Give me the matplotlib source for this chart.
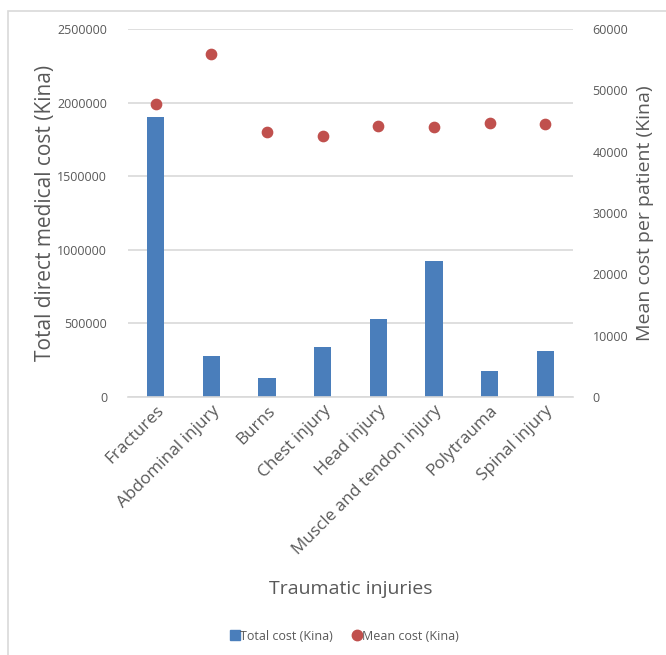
import matplotlib
matplotlib.use("Agg")
import matplotlib.pyplot as plt
from matplotlib.patches import Rectangle
from matplotlib.lines import Line2D
import numpy as np

categories = ["Fractures", "Abdominal injury", "Burns", "Chest injury", "Head injury",
              "Muscle and tendon injury", "Polytrauma", "Spinal injury"]
total_cost = [1905000, 280000, 127000, 340000, 530000, 924000, 179000, 311000]
mean_cost = [47700, 55900, 43200, 42600, 44200, 44000, 44700, 44500]
left_ticks = [0, 500000, 1000000, 1500000, 2000000, 2500000]
right_ticks = [0, 10000, 20000, 30000, 40000, 50000, 60000]

plt.rcParams['font.family'] = ['Open Sans', 'DejaVu Sans']
TXT = '#595959'
BAR = '#4A7EBB'
DOT = '#C0504D'
GRID = '#D9D9D9'

fig = plt.figure(figsize=(6.66, 6.55), dpi=100)
fig.patches.append(Rectangle((8/666, -0.1), 1.2, 1 - 11/655 + 0.1, transform=fig.transFigure,
                             fill=False, edgecolor='#D9D9D9', linewidth=1.2, zorder=0))

ax = fig.add_axes([128/666, 1 - 397/655, (573 - 128)/666, (397 - 29)/655])
x = np.arange(len(categories))
ax.bar(x, total_cost, width=0.31, color=BAR, zorder=2)
ax.set_xlim(-0.5, len(categories) - 0.5)
ax.set_ylim(0, 2500000)
ax.set_yticks(left_ticks)
ax.set_yticklabels([str(v) for v in left_ticks])
ax.yaxis.grid(True, color=GRID, linewidth=1.2, zorder=0)
ax.set_axisbelow(True)
for s in ['top', 'right', 'left']:
    ax.spines[s].set_visible(False)
ax.spines['bottom'].set_color(GRID)
ax.spines['bottom'].set_linewidth(1.2)
ax.tick_params(axis='y', length=0, pad=15, labelsize=9.0, labelcolor=TXT)
ax.tick_params(axis='x', length=0, pad=4, labelsize=12.3, labelcolor=TXT)
ax.set_xticks(x)
ax.set_xticklabels(categories, rotation=45, ha='right', rotation_mode='anchor')
ax.set_ylabel('Total direct medical cost (Kina)', fontsize=15, color=TXT)
ax.yaxis.set_label_coords((56 - 128) / 445, 0.5)
ax.set_xlabel('Traumatic injuries', fontsize=14, color=TXT)
ax.xaxis.set_label_coords(0.5, -(580 - 397) / 368)

ax2 = ax.twinx()
ax2.scatter(x, mean_cost, s=55, color=DOT, zorder=3)
ax2.set_ylim(0, 60000)
ax2.set_yticks(right_ticks)
ax2.set_yticklabels([str(v) for v in right_ticks])
for s in ['top', 'right', 'left', 'bottom']:
    ax2.spines[s].set_visible(False)
ax2.tick_params(axis='y', length=0, pad=14, labelsize=9.0, labelcolor=TXT)
ax2.set_ylabel('Mean cost per patient (Kina)', fontsize=14, color=TXT)
ax2.yaxis.set_label_coords((636 - 128) / 445, 0.5)

handles = [Line2D([], [], marker='s', linestyle='none', markersize=6.5, color=BAR),
           Line2D([], [], marker='o', linestyle='none', markersize=7.5, color=DOT)]
fig.legend(handles, ['Total cost (Kina)', 'Mean cost (Kina)'], loc='center',
           bbox_to_anchor=(345/666, 1 - 636/655), ncol=2,
           frameon=False, fontsize=9, labelcolor=TXT, handlelength=0.6, handletextpad=0.15,
           columnspacing=1.6)

fig.savefig('out.png', dpi=100)
